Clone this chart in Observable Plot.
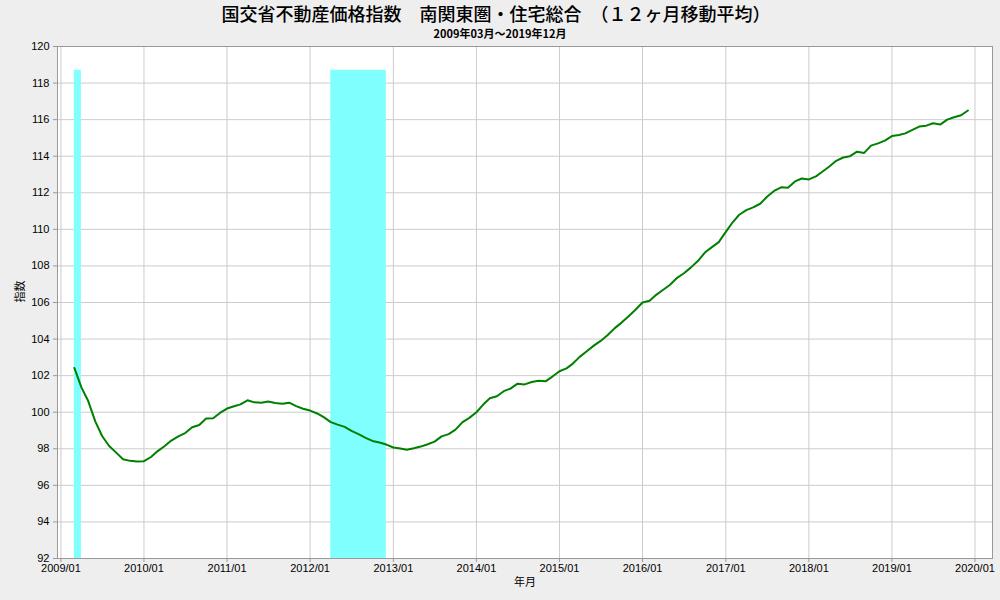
<!DOCTYPE html>
<html><head><meta charset="utf-8">
<script src="https://cdn.jsdelivr.net/npm/d3@7"></script>
<script src="https://cdn.jsdelivr.net/npm/@observablehq/plot@0.6"></script>
<style>
html,body{margin:0;padding:0;background:#eeeeee;}
body{width:1000px;height:600px;overflow:hidden;position:relative;font-family:"Liberation Sans",Arial,sans-serif;}
#head{position:relative;height:40px;width:1000px;}
#title{position:absolute;top:3px;left:0;width:992px;text-align:center;font-size:18px;line-height:20px;font-family:"Noto Sans CJK JP",sans-serif;color:#000;font-weight:500;}
#subtitle{position:absolute;top:27px;left:0;width:1000px;text-align:center;font-size:11px;line-height:13px;font-weight:bold;font-family:"Noto Sans CJK JP",sans-serif;color:#000;}
#chart svg{display:block;}
</style></head>
<body>
<div id="head">
  <div id="title">国交省不動産価格指数　南関東圏・住宅総合　（１２ヶ月移動平均）</div>
  <div id="subtitle">2009年03月～2019年12月</div>
</div>
<div id="chart"></div>
<script>
// Monthly series 2009/03 .. 2019/12
const firstMonth = "2009-03-01";
const lastMonth = "2019-12-01";
const indexValues = [
  102.42, 101.36, 100.61, 99.5, 98.7, 98.15, 97.79, 97.43, 97.34, 97.3,
  97.32, 97.55, 97.86, 98.14, 98.45, 98.68, 98.86, 99.18, 99.3, 99.66, 99.67, 99.96,
  100.2, 100.33, 100.43, 100.65, 100.54, 100.52, 100.59, 100.5, 100.46, 100.52, 100.33, 100.19,
  100.09, 99.93, 99.73, 99.46, 99.32, 99.2, 98.98, 98.8, 98.6, 98.43, 98.34, 98.23,
  98.07, 98.02, 97.95, 98.03, 98.12, 98.25, 98.39, 98.68, 98.8, 99.05, 99.46, 99.69,
  100.0, 100.43, 100.76, 100.87, 101.15, 101.3, 101.56, 101.52, 101.65, 101.72, 101.69, 101.95,
  102.24, 102.4, 102.66, 103.04, 103.33, 103.64, 103.9, 104.22, 104.6, 104.9, 105.25, 105.6,
  106.0, 106.1, 106.42, 106.7, 106.97, 107.35, 107.6, 107.92, 108.28, 108.73, 109.03, 109.3,
  109.86, 110.4, 110.8, 111.05, 111.2, 111.4, 111.78, 112.1, 112.3, 112.28, 112.62, 112.78,
  112.73, 112.9, 113.15, 113.44, 113.75, 113.93, 114.0, 114.25, 114.18, 114.58, 114.7, 114.85,
  115.1, 115.16, 115.25, 115.44, 115.62, 115.67, 115.8, 115.73, 116.0, 116.13, 116.24, 116.5
];
// shaded periods
const bandStart = ["2009-03-01", "2012-04-01"];
const bandEnd = ["2009-04-01", "2012-12-01"];
const bandBottom = 92;
const bandTop = 118.7;
// axes
const yTicks = [92, 94, 96, 98, 100, 102, 104, 106, 108, 110, 112, 114, 116, 118, 120];
const xTickYears = ["2009-01-01","2010-01-01","2011-01-01","2012-01-01","2013-01-01","2014-01-01",
  "2015-01-01","2016-01-01","2017-01-01","2018-01-01","2019-01-01","2020-01-01"];
const xDomain = ["2008-12-17", "2020-03-18"];
const yDomain = [92, 120];

const months = d3.utcMonth.range(new Date(firstMonth), d3.utcMonth.offset(new Date(lastMonth), 1));
const series = months.map((d, i) => ({date: d, value: indexValues[i]}));
const bands = bandStart.map((s, i) => ({x1: new Date(s), x2: new Date(bandEnd[i]), y1: bandBottom, y2: bandTop}));
const xTicks = xTickYears.map(s => new Date(s));
const fmt = d3.utcFormat("%Y/%m");

const chart = Plot.plot({
  width: 1000,
  height: 560,
  marginTop: 6,
  marginBottom: 42,
  marginLeft: 57,
  marginRight: 8,
  style: {background: "transparent", fontFamily: "'Liberation Sans', Arial, sans-serif", fontSize: "11px", color: "#000"},
  x: {type: "utc", domain: xDomain.map(s => new Date(s))},
  y: {domain: yDomain},
  marks: [
    Plot.frame({fill: "white"}),
    Plot.gridX(xTicks, {stroke: "#cccccc", strokeOpacity: 1}),
    Plot.gridY(yTicks, {stroke: "#cccccc", strokeOpacity: 1}),
    Plot.rect(bands, {x1: "x1", x2: "x2", y1: "y1", y2: "y2", fill: "#80ffff"}),
    Plot.line(series, {x: "date", y: "value", stroke: "#008000", strokeWidth: 2}),
    Plot.frame({stroke: "#999999"}),
    Plot.axisY(yTicks, {anchor: "left", tickSize: 4, tickPadding: 4, stroke: "#999", fill: "#000", label: null}),
    Plot.axisX(xTicks, {anchor: "bottom", tickSize: 4, tickPadding: 2, stroke: "#999", fill: "#000", tickFormat: fmt, label: null}),
    Plot.text(["指数"], {frameAnchor: "left", dx: -37, rotate: -90, fontSize: 11, fill: "#000", fontFamily: "'Noto Sans CJK JP', sans-serif"}),
    Plot.text(["年月"], {frameAnchor: "bottom", dy: 27, fontSize: 11, fill: "#000", fontFamily: "'Noto Sans CJK JP', sans-serif"})
  ]
});
document.getElementById("chart").appendChild(chart);
</script>
</body></html>
